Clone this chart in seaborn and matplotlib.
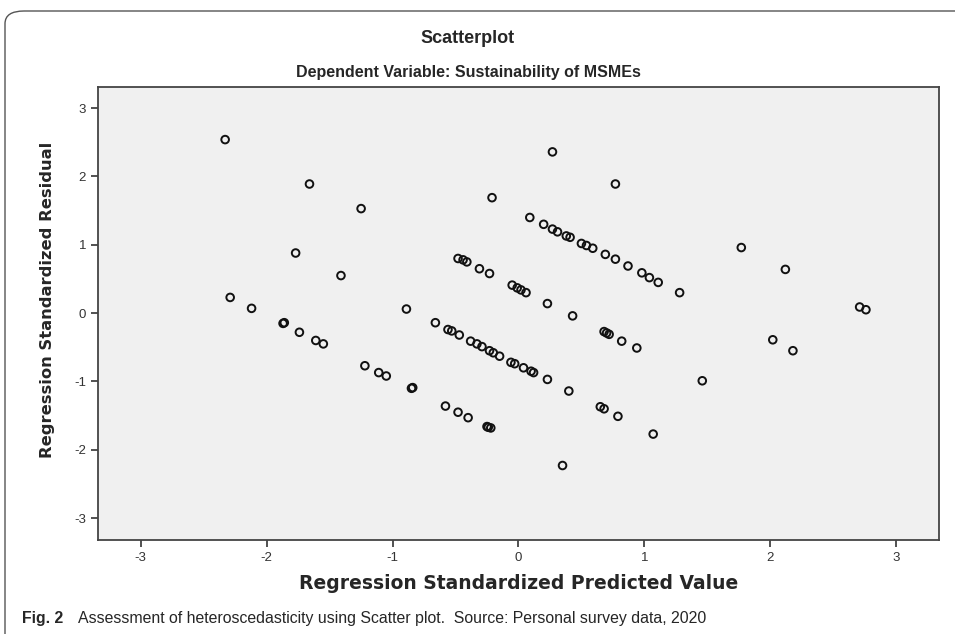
import matplotlib.pyplot as plt
import pandas as pd
import seaborn as sns
from matplotlib.patches import FancyBboxPatch

# regression standardized predicted value (x) and residual (y)
pred = [
    -2.33, -1.66, -1.25, -1.77, -1.41, -2.29, -2.12, -1.87, -1.86, -1.74,
    -1.61, -1.55, -1.22, -1.11, -1.05, -0.85, -0.84, -0.58, -0.48, -0.40,
    -0.25, -0.24, -0.22, 0.35, 0.27, 0.77, -0.21, 0.09, 0.20, 0.27,
    0.31, 0.38, 0.41, 0.50, 0.54, 0.59, 0.69, 0.77, 0.87, 0.98,
    1.04, 1.11, 1.28, 1.77, 2.12, 2.71, 2.76, -0.48, -0.44, -0.41,
    -0.31, -0.23, -0.05, -0.01, 0.02, 0.06, 0.23, 0.43, -0.89, -0.66,
    -0.56, -0.53, -0.47, -0.38, -0.33, -0.29, -0.23, -0.20, -0.15, -0.06,
    -0.03, 0.04, 0.10, 0.12, 0.23, 0.40, 0.68, 0.70, 0.72, 0.82,
    0.94, 0.65, 0.68, 0.79, 1.07, 2.02, 2.18, 1.46,
]
resid = [
    2.54, 1.89, 1.53, 0.88, 0.55, 0.23, 0.07, -0.15, -0.14, -0.28,
    -0.40, -0.45, -0.77, -0.87, -0.92, -1.10, -1.09, -1.36, -1.45, -1.53,
    -1.66, -1.67, -1.68, -2.23, 2.36, 1.89, 1.69, 1.40, 1.30, 1.23,
    1.19, 1.13, 1.11, 1.02, 0.99, 0.95, 0.86, 0.79, 0.69, 0.59,
    0.52, 0.45, 0.30, 0.96, 0.64, 0.09, 0.05, 0.80, 0.78, 0.75,
    0.65, 0.58, 0.41, 0.37, 0.34, 0.30, 0.14, -0.04, 0.06, -0.14,
    -0.24, -0.26, -0.32, -0.41, -0.45, -0.49, -0.55, -0.58, -0.63, -0.72,
    -0.74, -0.80, -0.85, -0.87, -0.97, -1.14, -0.27, -0.29, -0.31, -0.41,
    -0.51, -1.37, -1.40, -1.51, -1.77, -0.39, -0.55, -0.99,
]
ticks = [-3, -2, -1, 0, 1, 2, 3]

df = pd.DataFrame({"pred": pred, "resid": resid})

sns.set_theme(style="white")
plt.rcParams["font.family"] = ["Liberation Sans", "DejaVu Sans"]
plt.rcParams["axes.unicode_minus"] = False

fig = plt.figure(figsize=(9.55, 6.34), dpi=100)
ax = fig.add_axes([0.1026, 0.1483, 0.8806, 0.7145])
ax.set_facecolor("#F0F0F0")

sns.scatterplot(
    data=df, x="pred", y="resid", ax=ax,
    marker="o", s=30, facecolor="none", edgecolor="#111111", linewidth=1.4,
)

ax.set_xlim(-3.34, 3.34)
ax.set_ylim(-3.32, 3.31)
ax.set_xticks(ticks)
ax.set_yticks(ticks)
ax.tick_params(axis="both", direction="out", length=5, width=1.2, color="#333333",
               labelsize=9.5, labelcolor="#333333", bottom=True, left=True)
for spine in ax.spines.values():
    spine.set_color("#444444")
    spine.set_linewidth(1.3)

ax.set_xlabel("Regression Standardized Predicted Value", fontsize=13.5,
              fontweight="bold", family="DejaVu Sans", labelpad=7)
ax.set_ylabel("Regression Standardized Residual", fontsize=11.8,
              fontweight="bold", family="DejaVu Sans")
ax.yaxis.set_label_coords(-0.051, 0.53)

fig.text(468 / 955, 0.94, "Scatterplot", ha="center", va="center",
         fontsize=13, fontweight="bold")
fig.text(468 / 955, 0.885, "Dependent Variable: Sustainability of MSMEs",
         ha="center", va="center", fontsize=11.5, fontweight="bold")

# panel frame of the source figure
frame = FancyBboxPatch((5 / 955, -0.1), 1.2, 1.1 - 11 / 634,
                       boxstyle="round,pad=0,rounding_size=0.02",
                       transform=fig.transFigure, fill=False,
                       edgecolor="#555555", linewidth=1.0, clip_on=False)
fig.patches.append(frame)

fig.text(22 / 955, 1 - 618 / 634, "Fig. 2", ha="left", va="center",
         fontsize=11.4, fontweight="bold")
fig.text(78 / 955, 1 - 618 / 634,
         "Assessment of heteroscedasticity using Scatter plot.  Source: Personal survey data, 2020",
         ha="left", va="center", fontsize=11.4)

fig.savefig("out.png", dpi=100)
